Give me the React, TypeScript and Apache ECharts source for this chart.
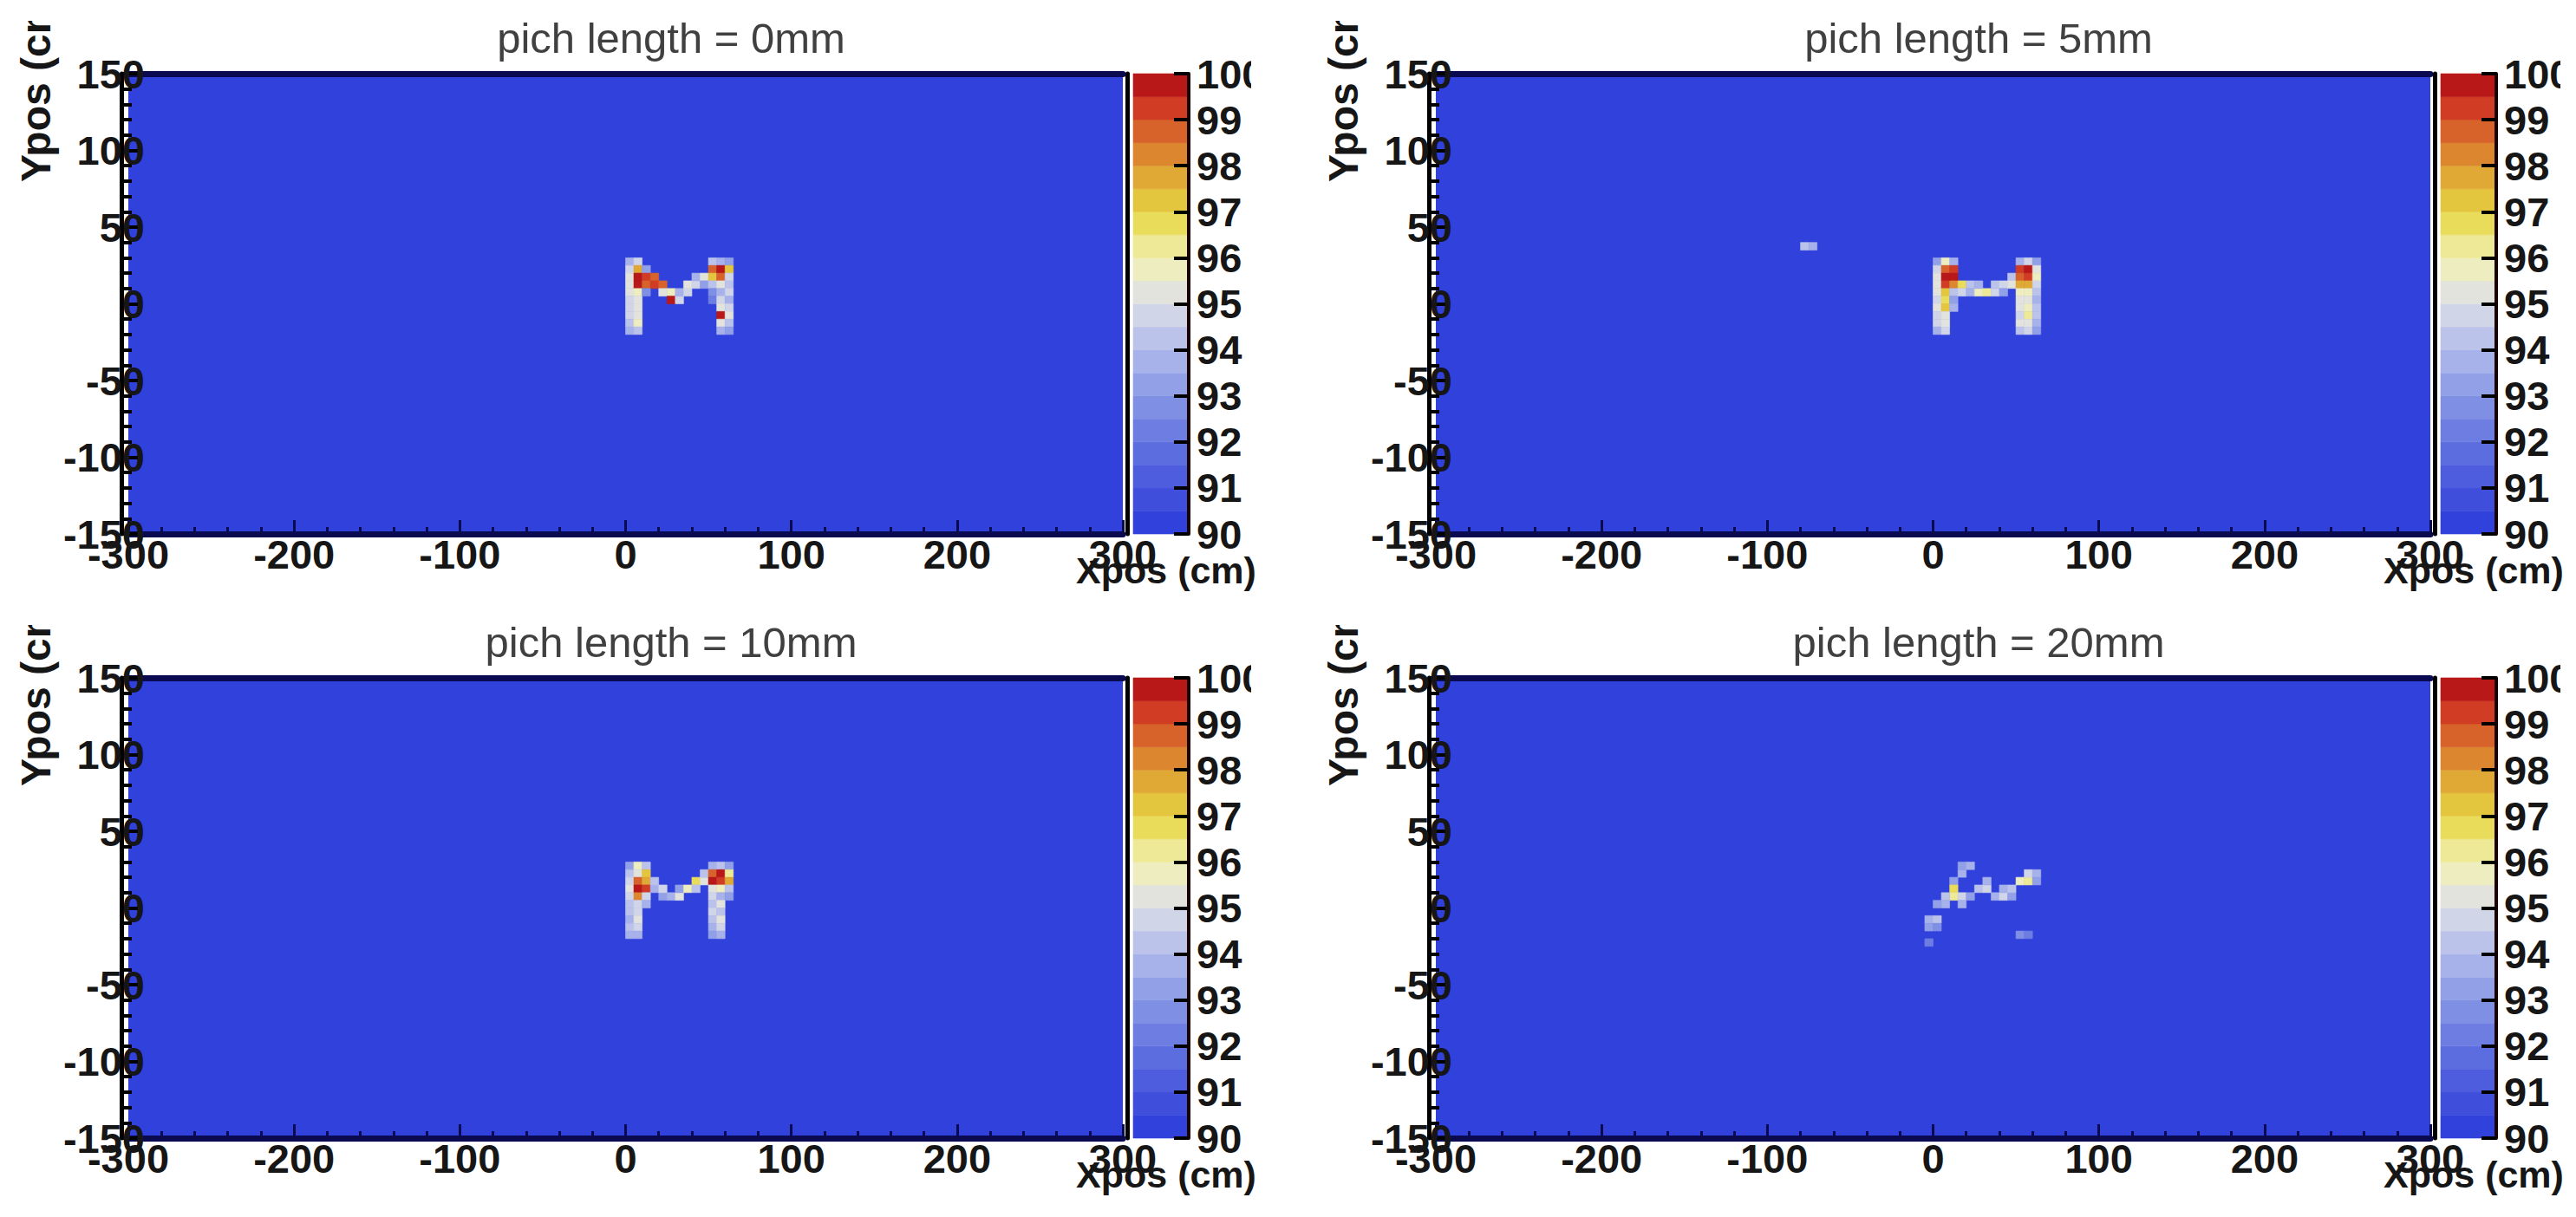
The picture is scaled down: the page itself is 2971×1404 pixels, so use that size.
import React, { useEffect, useRef } from "react";
import * as echarts from "echarts";

// ---------- data ----------
const PANEL_TITLES = ["pich length = 0mm", "pich length = 5mm", "pich length = 10mm", "pich length = 20mm"];
const X_TITLE = "Xpos (cm)";
const Y_TITLE = "Ypos (cm)";
const X_RANGE = [-300, 300];
const X_STEP = 100;
const Y_RANGE = [-150, 150];
const Y_STEP = 50;
const BIN = 5; // cm, histogram bin width
const Z_LEVELS = [90, 90.5, 91, 91.5, 92, 92.5, 93, 93.5, 94, 94.5, 95, 95.5, 96, 96.5, 97, 97.5, 98, 98.5, 99, 99.5, 100];
const PALETTE = [
  "#3141dc", "#3f4fdc", "#4d5ddd", "#5c6ddf", "#6d7de1", "#7f8fe4", "#92a0e7", "#a7b2ea", "#bcc3ea", "#d1d5e8",
  "#e3e3dd", "#eeedbf", "#eee996", "#e9dc5a", "#e4c63e", "#e0a834", "#dc872f", "#d8632a", "#d03c24", "#b81818",
];

// [x bin low edge (cm), y bin low edge (cm), efficiency]
const CELLS_0MM: number[][] = [
  [0, 25, 93.5], [0, 20, 94.5], [0, 15, 95], [0, 10, 95], [0, 5, 95], [0, 0, 94.5], [0, -5, 94.5], [0, -10, 94.5], [0, -15, 94], [0, -20, 93.5],
  [5, 25, 94.5], [5, 20, 97.5], [5, 15, 99.5], [5, 10, 99.5], [5, 5, 95.5], [5, 0, 95], [5, -5, 95], [5, -10, 95], [5, -15, 95.5], [5, -20, 94],
  [10, 20, 93], [10, 15, 99], [10, 10, 98.5], [10, 5, 92.5],
  [15, 15, 98.5], [15, 10, 99], [20, 10, 98.5], [20, 5, 95], [25, 5, 95.5], [25, 0, 99.5], [30, 0, 94.5], [30, 5, 93.5],
  [35, 5, 94.5], [35, 10, 95], [40, 10, 94.5], [40, 15, 93.5], [45, 15, 95], [45, 10, 93],
  [50, 25, 94], [50, 20, 98.5], [50, 15, 97], [50, 10, 94], [50, 5, 92.5], [50, 0, 92],
  [55, 25, 93.5], [55, 20, 99.5], [55, 15, 98.5], [55, 10, 95], [55, 5, 93.5], [55, 0, 94.5], [55, -5, 95], [55, -10, 99.5], [55, -15, 95], [55, -20, 93.5],
  [60, 25, 93], [60, 20, 97], [60, 15, 94.5], [60, 10, 94], [60, 5, 94.5], [60, 0, 93.5], [60, -5, 94.5], [60, -10, 95], [60, -15, 94], [60, -20, 93],
];

const CELLS_5MM: number[][] = [
  [0, 25, 93], [0, 20, 94.5], [0, 15, 95], [0, 10, 95], [0, 5, 95], [0, 0, 94.5], [0, -5, 95], [0, -10, 94.5], [0, -15, 94.5], [0, -20, 93.5],
  [5, 25, 95.5], [5, 20, 98.5], [5, 15, 99.5], [5, 10, 99], [5, 5, 97], [5, 0, 96.5], [5, -5, 97], [5, -10, 95], [5, -15, 95], [5, -20, 94.5],
  [10, 25, 93.5], [10, 20, 99], [10, 15, 99.5], [10, 10, 98], [10, 5, 94], [10, 0, 93], [10, -5, 93.5],
  [15, 10, 96.5], [15, 5, 94.5], [20, 10, 94], [20, 5, 93.5], [25, 5, 95.5], [25, 10, 93.5], [30, 5, 96], [35, 5, 94.5], [35, 10, 94],
  [40, 10, 94.5], [40, 5, 93], [45, 15, 94], [45, 10, 95],
  [50, 25, 93.5], [50, 20, 99], [50, 15, 98.5], [50, 10, 97.5], [50, 5, 95.5], [50, 0, 95], [50, -5, 95], [50, -10, 94.5], [50, -15, 95], [50, -20, 94],
  [55, 25, 94.5], [55, 20, 99.5], [55, 15, 99], [55, 10, 97.5], [55, 5, 95.5], [55, 0, 95], [55, -5, 95.5], [55, -10, 96], [55, -15, 95], [55, -20, 94.5],
  [60, 25, 93], [60, 20, 95], [60, 15, 95.5], [60, 10, 94.5], [60, 5, 94], [60, 0, 93.5], [60, -5, 94], [60, -10, 94], [60, -15, 93.5], [60, -20, 93],
  [-80, 35, 94], [-75, 35, 93.5],
];

const CELLS_10MM: number[][] = [
  [0, 25, 93], [0, 20, 94], [0, 15, 94.5], [0, 10, 95], [0, 5, 94.5], [0, 0, 94], [0, -5, 94], [0, -10, 93.5], [0, -15, 94], [0, -20, 93.5],
  [5, 25, 95.5], [5, 20, 95], [5, 15, 98.5], [5, 10, 99.5], [5, 5, 98], [5, 0, 94.5], [5, -5, 94.5], [5, -10, 95], [5, -15, 94.5], [5, -20, 93.5],
  [10, 25, 94], [10, 20, 97], [10, 15, 97.5], [10, 10, 99], [10, 5, 94.5], [10, 0, 93.5],
  [15, 10, 93.5], [15, 15, 94], [20, 5, 93], [20, 10, 94.5], [25, 5, 93.5], [30, 5, 95], [30, 10, 93], [35, 10, 95.5], [40, 15, 96.5], [40, 10, 94],
  [45, 15, 95], [45, 20, 94],
  [50, 25, 93.5], [50, 20, 98.5], [50, 15, 99.5], [50, 10, 95], [50, 5, 94.5], [50, 0, 94], [50, -5, 94.5], [50, -10, 94], [50, -15, 93.5], [50, -20, 93],
  [55, 25, 94], [55, 20, 99.5], [55, 15, 99], [55, 10, 95.5], [55, 5, 93.5], [55, 0, 95], [55, -5, 94], [55, -10, 95], [55, -15, 94.5], [55, -20, 93.5],
  [60, 25, 93], [60, 20, 96], [60, 15, 97.5], [60, 10, 94], [60, 5, 93],
];

const CELLS_20MM: number[][] = [
  [15, 20, 93.5], [15, 25, 93], [20, 25, 93.5], [10, 15, 93], [10, 10, 96.5], [10, 5, 96], [5, 5, 94], [5, 0, 93.5], [0, 0, 93],
  [15, 5, 94.5], [15, 0, 93.5], [20, 5, 93], [25, 10, 94], [30, 10, 94.5], [30, 15, 93.5], [35, 5, 93.5], [40, 5, 94.5], [45, 5, 93],
  [40, 10, 93.5], [45, 10, 94], [50, 15, 95.5], [55, 15, 96], [55, 20, 94.5], [60, 20, 93.5], [60, 15, 93],
  [-5, -10, 93.5], [0, -10, 94], [-5, -15, 93], [0, -15, 92.5], [-5, -25, 92], [50, -20, 92.5], [55, -20, 92],
];

const PANEL_CELLS = [CELLS_0MM, CELLS_5MM, CELLS_10MM, CELLS_20MM];

// ---------- layout ----------
const W = 2971;
const H = 1404;
const COL_LEFT = [148, 1656];
const ROW_TOP = [85, 782];
const PLOT_W = 1147;
const PLOT_H = 531;
const CBAR_LEFT = [1307, 2815];
const CBAR_W = 64;
const PAD_RIGHT_CLIP = [1443, 2953]; // where the pad cuts the palette labels
const PAD_TOP_CLIP = [24, 721]; // where the pad cuts the y titles
const FONT = "'Liberation Sans', Arial, Helvetica, sans-serif";
const LABEL_SIZE = 47;

function colorFor(v: number): string {
  for (let i = 0; i < PALETTE.length; i++) {
    if (v < Z_LEVELS[i + 1]) return PALETTE[i];
  }
  return PALETTE[PALETTE.length - 1];
}

function buildOption() {
  const grid: any[] = [];
  const xAxis: any[] = [];
  const yAxis: any[] = [];
  const series: any[] = [];
  const graphic: any[] = [];

  const cbarData = Z_LEVELS.slice(0, -1).map((lo, i) => [lo, Z_LEVELS[i + 1], i]);
  const labelStyle = { fontSize: LABEL_SIZE, fontWeight: "bold", color: "#161616", fontFamily: FONT };

  for (let p = 0; p < 4; p++) {
    const col = p % 2;
    const row = Math.floor(p / 2);
    const left = COL_LEFT[col];
    const top = ROW_TOP[row];

    const gMain = grid.length;
    grid.push({ left, top, width: PLOT_W, height: PLOT_H, show: true, backgroundColor: PALETTE[0], borderWidth: 0 });
    const gBar = grid.length;
    grid.push({ left: CBAR_LEFT[col], top, width: CBAR_W, height: PLOT_H, show: false });

    const xMain = xAxis.length;
    xAxis.push({
      type: "value", gridIndex: gMain, position: "bottom", min: X_RANGE[0], max: X_RANGE[1], interval: X_STEP, z: 10,
      axisLine: { show: true, onZero: false, lineStyle: { color: "#0a0a50", width: 7 } },
      axisTick: { show: true, inside: true, length: 16, lineStyle: { color: "#0a0a50", width: 3 } },
      minorTick: { show: true, splitNumber: 5, length: 8, lineStyle: { color: "#0a0a50", width: 3 } },
      splitLine: { show: false },
      axisLabel: { ...labelStyle, margin: 0 },
    });
    xAxis.push({
      type: "value", gridIndex: gMain, position: "top", min: X_RANGE[0], max: X_RANGE[1], z: 10,
      axisLine: { show: true, onZero: false, lineStyle: { color: "#0a0a50", width: 7 } },
      axisTick: { show: false }, axisLabel: { show: false }, splitLine: { show: false },
    });
    const xBar = xAxis.length;
    xAxis.push({ type: "value", gridIndex: gBar, min: 0, max: 1, show: false });

    const yMain = yAxis.length;
    yAxis.push({
      type: "value", gridIndex: gMain, position: "left", offset: 8, min: Y_RANGE[0], max: Y_RANGE[1], interval: Y_STEP, z: 10,
      axisLine: { show: true, onZero: false, lineStyle: { color: "#000000", width: 5 } },
      axisTick: { show: true, inside: true, length: 20, lineStyle: { color: "#000000", width: 4 } },
      minorTick: { show: true, splitNumber: 5, length: 12, lineStyle: { color: "#000000", width: 4 } },
      splitLine: { show: false },
      axisLabel: { ...labelStyle, margin: -27, padding: [0, 0, 18, 0] },
    });
    yAxis.push({
      type: "value", gridIndex: gMain, position: "right", offset: 5, min: Y_RANGE[0], max: Y_RANGE[1], z: 10,
      axisLine: { show: true, onZero: false, lineStyle: { color: "#000000", width: 5 } },
      axisTick: { show: false }, axisLabel: { show: false }, splitLine: { show: false },
    });
    const yBar = yAxis.length;
    yAxis.push({
      type: "value", gridIndex: gBar, position: "right", min: Z_LEVELS[0], max: Z_LEVELS[Z_LEVELS.length - 1], interval: 1, z: 10,
      axisLine: { show: true, onZero: false, lineStyle: { color: "#1a0000", width: 4 } },
      axisTick: { show: true, inside: true, length: 17, lineStyle: { color: "#000000", width: 4 } },
      splitLine: { show: false },
      axisLabel: { ...labelStyle, margin: 9, padding: [0, 0, 10, 0] },
    });

    series.push({
      type: "custom",
      name: PANEL_TITLES[p],
      xAxisIndex: xMain,
      yAxisIndex: yMain,
      clip: true,
      encode: { x: 0, y: 1 },
      data: PANEL_CELLS[p],
      renderItem: (_params: any, api: any) => {
        const x = api.value(0);
        const y = api.value(1);
        const v = api.value(2);
        const p0 = api.coord([x, y + BIN]);
        const p1 = api.coord([x + BIN, y]);
        const c = colorFor(v);
        return {
          type: "rect",
          shape: { x: p0[0], y: p0[1], width: p1[0] - p0[0], height: p1[1] - p0[1] },
          style: { fill: c, stroke: c, lineWidth: 0.6 },
        };
      },
    });

    series.push({
      type: "custom",
      name: "palette " + p,
      xAxisIndex: xBar,
      yAxisIndex: yBar,
      encode: { y: [0, 1] },
      data: cbarData,
      renderItem: (_params: any, api: any) => {
        const lo = api.value(0);
        const hi = api.value(1);
        const idx = api.value(2);
        const p0 = api.coord([0, hi]);
        const p1 = api.coord([1, lo]);
        const c = PALETTE[idx];
        return {
          type: "rect",
          shape: { x: p0[0], y: p0[1], width: p1[0] - p0[0], height: p1[1] - p0[1] },
          style: { fill: c, stroke: c, lineWidth: 0.6 },
        };
      },
    });

    // panel title
    graphic.push({
      type: "text", x: left + 626, y: top - 41, z: 50,
      style: { text: PANEL_TITLES[p], fontSize: 49, fontFamily: FONT, fill: "#404040", align: "center", verticalAlign: "middle" },
    });
    // x title
    graphic.push({
      type: "text", x: left + 1197, y: top + PLOT_H + 42, z: 50,
      style: { text: X_TITLE, fontSize: 43, fontWeight: "bold", fontFamily: FONT, fill: "#161616", align: "center", verticalAlign: "middle" },
    });
    // y title
    graphic.push({
      type: "text", x: left - 107, y: top + 125, rotation: Math.PI / 2, z: 50,
      style: { text: Y_TITLE, fontSize: 48, fontWeight: "bold", fontFamily: FONT, fill: "#161616", align: "left", verticalAlign: "middle" },
    });
    // pad clipping: the pad edge cuts the y title above and the top palette label on the right
    graphic.push({
      type: "rect", z: 100, silent: true,
      shape: { x: left - 148, y: PAD_TOP_CLIP[row] - 60, width: 90, height: 60 },
      style: { fill: "#ffffff" },
    });
    graphic.push({
      type: "rect", z: 100, silent: true,
      shape: { x: PAD_RIGHT_CLIP[col], y: top - 50, width: 60, height: 70 },
      style: { fill: "#ffffff" },
    });
  }

  return {
    animation: false,
    backgroundColor: "#ffffff",
    grid,
    xAxis,
    yAxis,
    series,
    graphic,
  };
}

export default function App() {
  const ref = useRef<HTMLDivElement>(null);
  useEffect(() => {
    document.body.style.margin = "0";
    document.body.style.overflow = "hidden";
    if (!ref.current) return;
    const chart = echarts.init(ref.current, null, { renderer: "svg" });
    chart.setOption(buildOption());
    return () => chart.dispose();
  }, []);
  return <div ref={ref} style={{ width: W, height: H }} />;
}
